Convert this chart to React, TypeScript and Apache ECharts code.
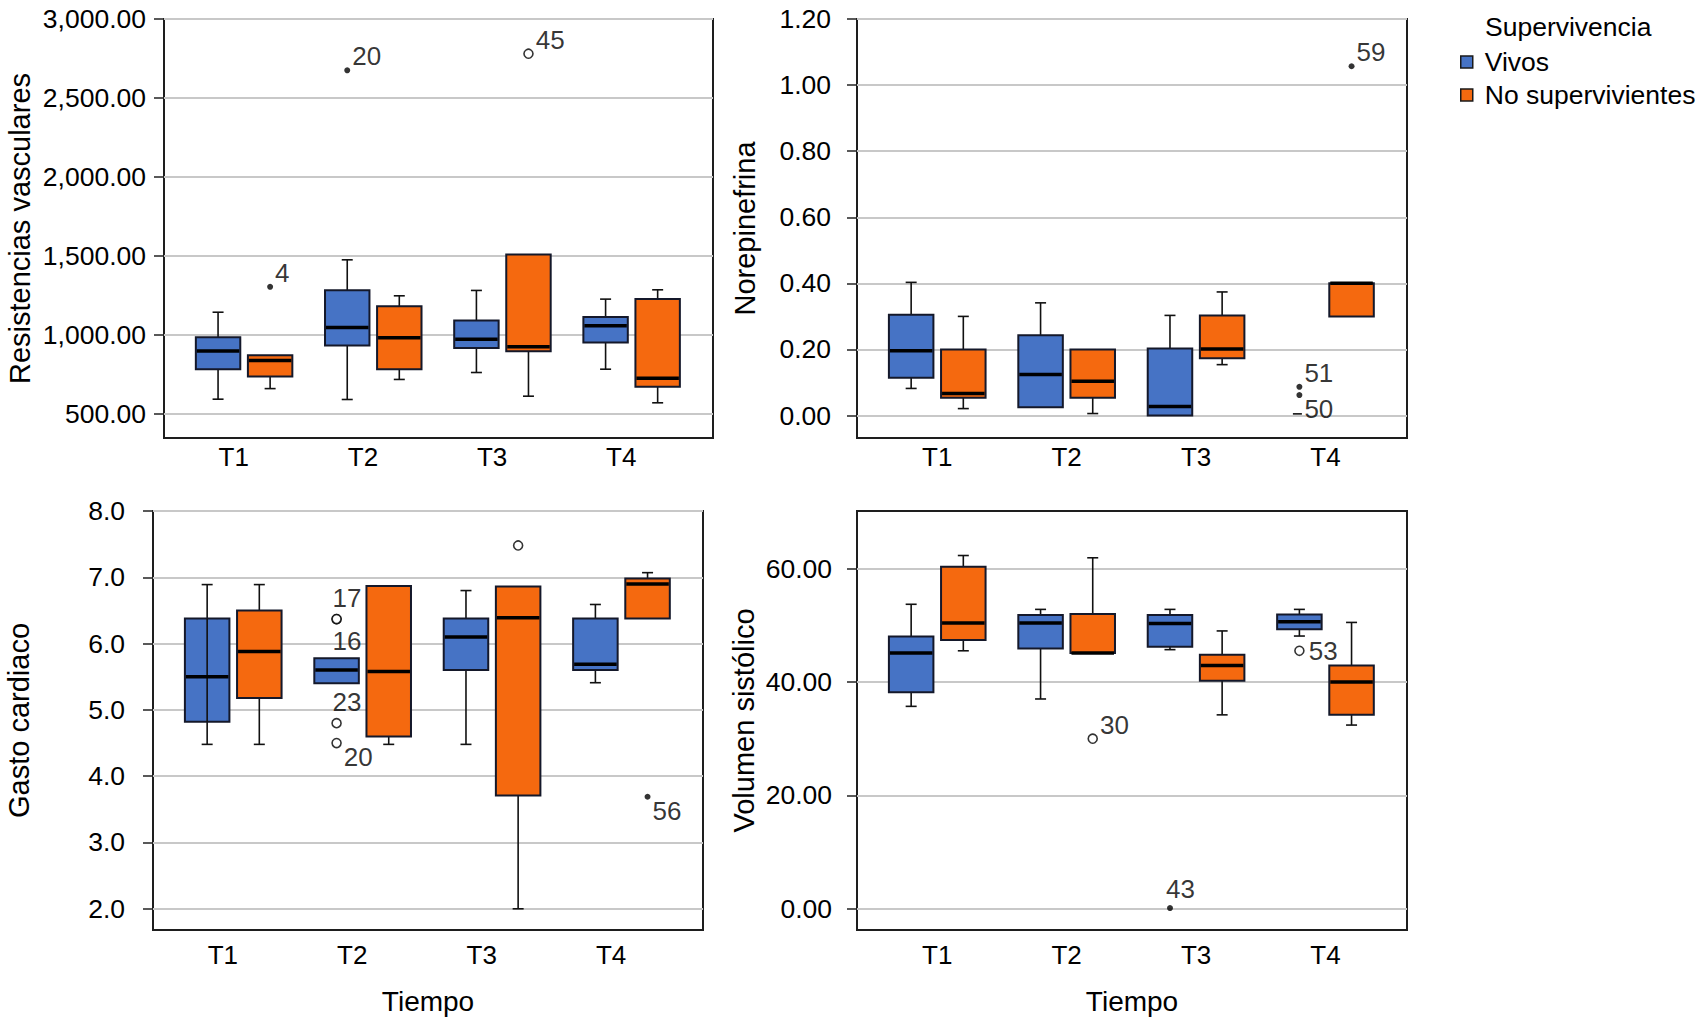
import React, { useEffect, useRef } from "react";
import * as echarts from "echarts";

const CATEGORIES = ["T1", "T2", "T3", "T4"];
const GROUPS = ["Vivos", "No supervivientes"];
const X_TITLE = "Tiempo";
const LEGEND_TITLE = "Supervivencia";

// Box statistics per category: [lower whisker, Q1, median, Q3, upper whisker]
const RV_VIVOS = [
  [591, 781, 897, 984, 1142],
  [589, 931, 1045, 1282, 1474],
  [760, 916, 971, 1090, 1280],
  [781, 950, 1056, 1111, 1225],
];
const RV_NOSUP = [
  [658, 735, 836, 870, 870],
  [716, 781, 980, 1180, 1246],
  [610, 895, 923, 1508, 1508],
  [568, 669, 724, 1225, 1284],
];
// Outliers: [category index, group index, value, case label, extreme (1 = dot, 0 = circle)]
const RV_OUT = [
  [1, 0, 2675, "20", 1],
  [0, 1, 1303, "4", 1],
  [2, 1, 2780, "45", 0],
];
const RV_TICKS = [500, 1000, 1500, 2000, 2500, 3000];

const NE_VIVOS = [
  [0.082, 0.114, 0.196, 0.305, 0.403],
  [0.025, 0.025, 0.124, 0.243, 0.341],
  [0.0, 0.0, 0.027, 0.203, 0.303],
  [0.005, 0.005, 0.005, 0.005, 0.005],
];
const NE_NOSUP = [
  [0.021, 0.054, 0.067, 0.2, 0.3],
  [0.006, 0.054, 0.104, 0.2, 0.2],
  [0.154, 0.173, 0.201, 0.303, 0.374],
  [0.3, 0.3, 0.4, 0.4, 0.4],
];
const NE_OUT = [
  [3, 0, 0.087, "51", 1],
  [3, 0, 0.062, "50", 1],
  [3, 1, 1.057, "59", 1],
];
const NE_TICKS = [0, 0.2, 0.4, 0.6, 0.8, 1.0, 1.2];

const GC_VIVOS = [
  [4.48, 4.82, 5.5, 6.38, 6.89],
  [5.4, 5.4, 5.6, 5.78, 5.78],
  [4.48, 5.6, 6.1, 6.38, 6.8],
  [5.41, 5.6, 5.69, 6.38, 6.59],
];
const GC_NOSUP = [
  [4.48, 5.18, 5.88, 6.5, 6.89],
  [4.48, 4.6, 5.58, 6.87, 6.87],
  [2.0, 3.71, 6.39, 6.86, 6.86],
  [6.38, 6.38, 6.9, 6.98, 7.07],
];
const GC_OUT = [
  [1, 0, 6.37, "17", 0],
  [1, 0, 6.37, "16", 0],
  [1, 0, 4.8, "23", 0],
  [1, 0, 4.5, "20", 0],
  [2, 1, 7.48, "", 0],
  [3, 1, 3.69, "56", 1],
];
const GC_TICKS = [2, 3, 4, 5, 6, 7, 8];

const VS_VIVOS = [
  [35.7, 38.2, 45.1, 48.0, 53.7],
  [37.0, 45.9, 50.4, 51.8, 52.8],
  [45.7, 46.2, 50.3, 51.8, 52.8],
  [48.1, 49.3, 50.6, 51.9, 52.8],
];
const VS_NOSUP = [
  [45.5, 47.4, 50.4, 60.3, 62.3],
  [45.1, 45.1, 45.1, 52.0, 61.9],
  [34.2, 40.2, 42.9, 44.8, 49.0],
  [32.4, 34.2, 40.0, 42.9, 50.5],
];
const VS_OUT = [
  [1, 1, 30.0, "30", 0],
  [2, 0, 0.13, "43", 1],
  [3, 0, 45.5, "53", 0],
];
const VS_TICKS = [0, 20, 40, 60];

// ---------------- layout & style ----------------
const FONT = "'Liberation Sans', Arial, Helvetica, sans-serif";
const COLORS = ["#4673c5", "#f5690f"];
const BOX_W = 0.344;
const GROUP_OFFSET = [-0.2015, 0.2015];
const CAP_PX = 11;
const X_MIN = 0.38;
const X_MAX = 4.63;
// boxes whose whisker line is drawn straight through the box: [plot, group, category]
const WHISKER_THROUGH = [[2, 0, 0]];

type Place = "ur" | "lr" | "r" | "above" | "below";

const PLOTS = [
  {
    title: "Resistencias vasculares",
    vivos: RV_VIVOS, nosup: RV_NOSUP, out: RV_OUT, ticks: RV_TICKS,
    min: 345, max: 3000,
    fmt: (v: number) => v.toLocaleString("en-US", { minimumFractionDigits: 2, maximumFractionDigits: 2 }),
    grid: { left: 164, top: 19, width: 549, height: 419 },
    nameGap: 130, labelShift: -0.08, xMargin: 6, yMargin: 18, xTitle: false,
    place: { "20": "ur", "4": "ur", "45": "ur" } as Record<string, Place>,
  },
  {
    title: "Norepinefrina",
    vivos: NE_VIVOS, nosup: NE_NOSUP, out: NE_OUT, ticks: NE_TICKS,
    min: -0.068, max: 1.2,
    fmt: (v: number) => v.toFixed(2),
    grid: { left: 857, top: 19, width: 550, height: 419 },
    nameGap: 98, labelShift: 0, xMargin: 6, yMargin: 26, xTitle: false,
    place: { "51": "ur", "50": "lr", "59": "ur" } as Record<string, Place>,
  },
  {
    title: "Gasto cardiaco",
    vivos: GC_VIVOS, nosup: GC_NOSUP, out: GC_OUT, ticks: GC_TICKS,
    min: 1.68, max: 8.0,
    fmt: (v: number) => v.toFixed(1),
    grid: { left: 153, top: 511, width: 550, height: 419 },
    nameGap: 120, labelShift: -0.08, xMargin: 12, yMargin: 28, xTitle: true,
    place: { "17": "above", "16": "below", "23": "above", "20": "lr", "56": "lr" } as Record<string, Place>,
  },
  {
    title: "Volumen sistólico",
    vivos: VS_VIVOS, nosup: VS_NOSUP, out: VS_OUT, ticks: VS_TICKS,
    min: -3.74, max: 70.15,
    fmt: (v: number) => v.toFixed(2),
    grid: { left: 857, top: 511, width: 550, height: 419 },
    nameGap: 99, labelShift: 0, xMargin: 12, yMargin: 25, xTitle: true,
    place: { "30": "ur", "43": "above", "53": "r" } as Record<string, Place>,
  },
];

function labelFor(place: Place | undefined) {
  switch (place) {
    case "ur":
      return { position: "right", verticalAlign: "bottom", distance: 2, offset: [0, -1] };
    case "lr":
      return { position: "right", verticalAlign: "top", distance: 2, offset: [0, 1] };
    case "r":
      return { position: "right", verticalAlign: "middle", distance: 4 };
    case "above":
      return { position: "top", align: "left", distance: 3, offset: [-4, 0] };
    case "below":
      return { position: "bottom", align: "left", distance: 4, offset: [-4, 0] };
    default:
      return { position: "right" };
  }
}

function boxSeries(gridIdx: number, groupIdx: number, stats: number[][]) {
  return {
    type: "custom",
    name: GROUPS[groupIdx],
    xAxisIndex: gridIdx,
    yAxisIndex: gridIdx,
    silent: true,
    itemStyle: { color: COLORS[groupIdx] },
    encode: { x: 0, y: [1, 2, 3, 4, 5] },
    data: stats.map((s, k) => [k + 1 + GROUP_OFFSET[groupIdx], ...s]),
    renderItem: (params: any, api: any) => {
      const x = api.value(0);
      const v = [1, 2, 3, 4, 5].map((d) => api.value(d));
      const ys = v.map((val) => api.coord([x, val])[1]);
      const cx = api.coord([x, v[0]])[0];
      const bw = api.size([BOX_W, 0])[0];
      const ls = { stroke: "#111", lineWidth: 1.6 };
      const children: any[] = [];
      if (v[3] === v[1]) {
        children.push({
          type: "line",
          shape: { x1: cx - CAP_PX / 2 - 1, y1: ys[2], x2: cx + CAP_PX / 2 - 3, y2: ys[2] },
          style: ls,
        });
        return { type: "group", children };
      }
      if (v[4] > v[3]) {
        children.push({ type: "line", shape: { x1: cx, y1: ys[4], x2: cx, y2: ys[3] }, style: ls });
        children.push({ type: "line", shape: { x1: cx - CAP_PX / 2, y1: ys[4], x2: cx + CAP_PX / 2, y2: ys[4] }, style: ls });
      }
      if (v[0] < v[1]) {
        children.push({ type: "line", shape: { x1: cx, y1: ys[1], x2: cx, y2: ys[0] }, style: ls });
        children.push({ type: "line", shape: { x1: cx - CAP_PX / 2, y1: ys[0], x2: cx + CAP_PX / 2, y2: ys[0] }, style: ls });
      }
      children.push({
        type: "rect",
        shape: { x: cx - bw / 2, y: ys[3], width: bw, height: ys[1] - ys[3] },
        style: { fill: COLORS[groupIdx], stroke: "#14182a", lineWidth: 2 },
      });
      const through = WHISKER_THROUGH.some(
        ([p, g, c]) => p === gridIdx && g === groupIdx && c === params.dataIndex
      );
      if (through) {
        children.push({ type: "line", shape: { x1: cx, y1: ys[3], x2: cx, y2: ys[1] }, style: ls });
      }
      children.push({
        type: "line",
        shape: { x1: cx - bw / 2 + 1, y1: ys[2], x2: cx + bw / 2 - 1, y2: ys[2] },
        style: { stroke: "#000", lineWidth: 3.5 },
      });
      return { type: "group", children };
    },
  };
}

function outlierSeries(gridIdx: number, out: any[], place: Record<string, Place>) {
  return {
    type: "scatter",
    name: "outliers" + gridIdx,
    xAxisIndex: gridIdx,
    yAxisIndex: gridIdx,
    silent: true,
    z: 5,
    data: out.map(([c, g, val, id, ext]) => ({
      value: [c + 1 + GROUP_OFFSET[g], val],
      symbol: "circle",
      symbolSize: ext ? 6 : 9,
      itemStyle: ext
        ? { color: "#000", borderWidth: 0 }
        : { color: "#fff", borderColor: "#000", borderWidth: 1.6 },
      label: {
        show: id !== "",
        formatter: id,
        fontSize: 26,
        color: "#000",
        fontFamily: FONT,
        ...labelFor(place[id]),
      },
    })),
  };
}

function buildOption() {
  const grids = PLOTS.map((p) => ({
    ...p.grid,
    show: true,
    borderColor: "#1e1e1e",
    borderWidth: 2,
    backgroundColor: "transparent",
    containLabel: false,
  }));
  const xAxis = PLOTS.map((p, i) => ({
    type: "value",
    gridIndex: i,
    min: X_MIN,
    max: X_MAX,
    axisLine: { show: false },
    axisTick: { show: false },
    splitLine: { show: false },
    axisLabel: {
      customValues: CATEGORIES.map((_, k) => k + 1 + p.labelShift),
      formatter: (v: number) => CATEGORIES[Math.round(v - p.labelShift) - 1] ?? "",
      fontSize: 26,
      color: "#000",
      fontFamily: FONT,
      margin: p.xMargin,
    },
    name: p.xTitle ? X_TITLE : "",
    nameLocation: "middle",
    nameGap: 57,
    nameTextStyle: { fontSize: 28, color: "#000", fontFamily: FONT },
  }));
  const yAxis = PLOTS.map((p, i) => ({
    type: "value",
    gridIndex: i,
    min: p.min,
    max: p.max,
    axisLine: { show: false },
    axisTick: {
      show: true,
      customValues: p.ticks,
      length: 10,
      lineStyle: { color: "#222", width: 1.5 },
    },
    axisLabel: {
      customValues: p.ticks,
      formatter: p.fmt,
      fontSize: 26.5,
      color: "#000",
      fontFamily: FONT,
      margin: p.yMargin,
    },
    splitLine: { show: true, lineStyle: { color: "#c8c8c8", width: 2 } },
    name: p.title,
    nameLocation: "middle",
    nameGap: p.nameGap,
    nameTextStyle: { fontSize: 29, color: "#000", fontFamily: FONT },
  }));
  const series: any[] = [];
  PLOTS.forEach((p, i) => {
    series.push(boxSeries(i, 0, p.vivos));
    series.push(boxSeries(i, 1, p.nosup));
    series.push(outlierSeries(i, p.out, p.place));
  });
  return {
    animation: false,
    backgroundColor: "#fff",
    textStyle: { fontFamily: FONT },
    grid: grids,
    xAxis,
    yAxis,
    series,
    legend: {
      data: GROUPS,
      orient: "vertical",
      left: 1455,
      top: 42,
      itemWidth: 12,
      itemHeight: 12,
      itemGap: 3,
      icon: "rect",
      selectedMode: false,
      itemStyle: { borderColor: "#1a1a1a", borderWidth: 1.5 },
      textStyle: {
        fontSize: 26.5,
        lineHeight: 30,
        color: "#000",
        fontFamily: FONT,
        padding: [0, 0, 0, 7],
      },
    },
    graphic: [
      {
        type: "text",
        left: 1485,
        top: 13,
        style: { text: LEGEND_TITLE, fontSize: 26.5, fill: "#000", fontFamily: FONT },
      },
    ],
  };
}

export default function App() {
  const ref = useRef<HTMLDivElement>(null);
  useEffect(() => {
    if (!ref.current) return;
    const chart = echarts.init(ref.current, undefined, { renderer: "svg" });
    chart.setOption(buildOption() as any);
    return () => chart.dispose();
  }, []);
  return (
    <div
      ref={ref}
      style={{ position: "fixed", left: 0, top: 0, width: 1706, height: 1024, background: "#fff" }}
    />
  );
}
